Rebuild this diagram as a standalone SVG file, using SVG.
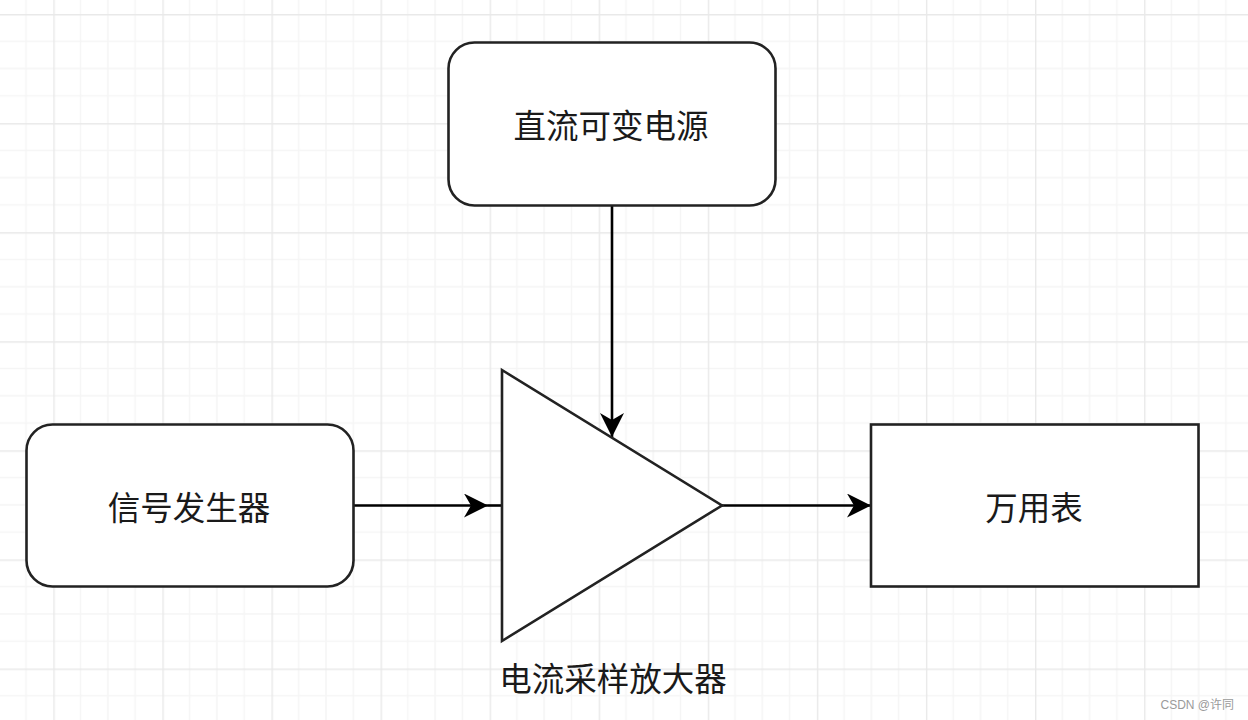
<svg xmlns="http://www.w3.org/2000/svg" width="1248" height="720" viewBox="0 0 1248 720">
  <defs>
    <!-- background grid: minor cells with a heavier line every fourth -->
    <pattern id="grid" patternUnits="userSpaceOnUse" x="53.3" y="14" width="109.08" height="109.08">
      <path d="M27.27 0V109.08M54.54 0V109.08M81.81 0V109.08M0 27.27H109.08M0 54.54H109.08M0 81.81H109.08" fill="none" stroke="#f5f5f5" stroke-width="1.5"/>
      <path d="M0.5 0V109.08M0 0.5H109.08" fill="none" stroke="#e9e9e9" stroke-width="1.8"/>
    </pattern>
    <marker id="arrow" viewBox="0 0 24 24" refX="24" refY="12" markerWidth="24" markerHeight="24" markerUnits="userSpaceOnUse" orient="auto">
      <path d="M24 12L0 0L7 12L0 24Z" fill="#000"/>
    </marker>
    <style>
      .box { fill: #fff; stroke: #222; stroke-width: 2.6; }
      .wire { fill: none; stroke: #000; stroke-width: 2.6; }
      .label { font-family: "Microsoft YaHei", "Noto Sans CJK SC", "Noto Sans", sans-serif; font-size: 32.5px; fill: #1a1a1a; text-anchor: middle; dominant-baseline: central; }
      .mark { font-family: "Liberation Sans", "Noto Sans CJK SC", sans-serif; font-size: 12px; fill: #9a9a9a; text-anchor: end; }
    </style>
  </defs>

  <rect width="1248" height="720" fill="#fff"/>
  <rect width="1248" height="720" fill="url(#grid)"/>

  <g id="connectors">
    <path class="wire" d="M612 206V437" marker-end="url(#arrow)"/>
    <path class="wire" d="M354 505.5H488" marker-end="url(#arrow)"/>
    <path class="wire" d="M488 505.5H502"/>
    <path class="wire" d="M722 505.5H871" marker-end="url(#arrow)"/>
  </g>

  <g id="power-supply">
    <rect class="box" x="448.5" y="42.5" width="327" height="163" rx="26" ry="26"/>
    <text class="label" x="611" y="123">直流可变电源</text>
  </g>

  <g id="signal-generator">
    <rect class="box" x="26.5" y="424.5" width="327" height="162" rx="26" ry="26"/>
    <text class="label" x="189" y="505">信号发生器</text>
  </g>

  <g id="amplifier">
    <path class="box" d="M502 370L722 505.5L502 641Z" stroke-linejoin="miter"/>
    <text class="label" x="613" y="676">电流采样放大器</text>
  </g>

  <g id="multimeter">
    <rect class="box" x="871" y="424.5" width="327.5" height="162"/>
    <text class="label" x="1034" y="505">万用表</text>
  </g>

  <text class="mark" x="1234" y="709">CSDN @许同</text>
</svg>
